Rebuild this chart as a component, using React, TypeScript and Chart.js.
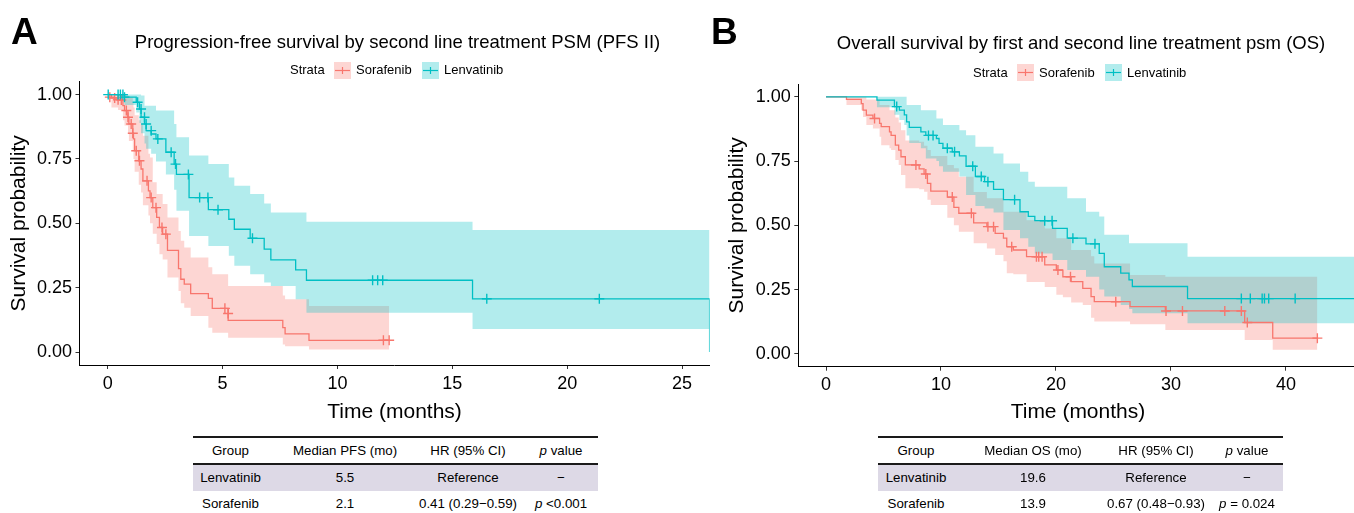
import React, { useEffect, useRef } from "react";
import { Chart, registerables } from "chart.js";

Chart.register(...registerables);

const RED = "#F8766D";
const TEAL = "#00BFC4";
const RED_FILL = "rgba(248,118,109,0.3)";
const TEAL_FILL = "rgba(0,191,196,0.3)";
const FONT = "'Liberation Sans', Arial, Helvetica, sans-serif";

// ---------- Panel A : PFS II ----------
const pfsSoraTime = [0, 0.16, 0.45, 0.66, 0.73, 0.88, 0.92, 1.09, 1.12, 1.17, 1.35, 1.45, 1.53, 1.77, 1.84, 1.96, 2.13, 2.25, 2.39, 2.6, 3.08, 3.18, 3.33, 3.61, 4.38, 4.55, 5.24, 7.62, 7.72, 8.76];
const pfsSoraSurv = [1, 0.987, 0.979, 0.957, 0.938, 0.912, 0.886, 0.85, 0.828, 0.782, 0.743, 0.711, 0.665, 0.626, 0.6, 0.561, 0.523, 0.484, 0.458, 0.395, 0.324, 0.283, 0.264, 0.227, 0.209, 0.17, 0.123, 0.095, 0.071, 0.046];
const pfsSoraLower = [1, 0.95, 0.94, 0.9, 0.88, 0.85, 0.82, 0.78, 0.75, 0.7, 0.65, 0.62, 0.57, 0.53, 0.5, 0.46, 0.42, 0.38, 0.36, 0.29, 0.237, 0.19, 0.172, 0.14, 0.095, 0.075, 0.056, 0.03, 0.023, 0.01];
const pfsSoraUpper = [1, 1, 1, 1, 1, 0.995, 0.99, 0.97, 0.95, 0.92, 0.9, 0.886, 0.84, 0.77, 0.756, 0.66, 0.614, 0.614, 0.575, 0.523, 0.47, 0.432, 0.406, 0.367, 0.33, 0.302, 0.257, 0.22, 0.205, 0.179];
const pfsSoraEnd = 12.25;
const pfsSoraCensorTime = [0.09, 0.3, 0.45, 0.59, 0.81, 0.88, 1.02, 1.09, 1.24, 1.38, 1.71, 1.89, 2.1, 2.36, 2.53, 5.1, 5.24, 12.0, 12.25];
const pfsSoraCensorSurv = [0.99, 0.987, 0.98, 0.979, 0.938, 0.912, 0.886, 0.85, 0.782, 0.743, 0.665, 0.6, 0.561, 0.484, 0.458, 0.17, 0.15, 0.046, 0.046];

const pfsLenvTime = [0, 0.73, 1.24, 1.38, 1.45, 1.6, 1.67, 1.89, 2.1, 2.53, 2.89, 2.99, 3.54, 4.38, 5.27, 5.51, 6.2, 6.81, 7.1, 8.18, 8.65, 15.88, 26.2];
const pfsLenvSurv = [1, 0.99, 0.97, 0.944, 0.912, 0.886, 0.86, 0.847, 0.828, 0.776, 0.73, 0.69, 0.6, 0.553, 0.516, 0.477, 0.442, 0.4, 0.358, 0.319, 0.279, 0.207, 0];
const pfsLenvLower = [1, 0.96, 0.93, 0.89, 0.85, 0.81, 0.79, 0.77, 0.74, 0.69, 0.63, 0.549, 0.451, 0.412, 0.374, 0.335, 0.302, 0.27, 0.257, 0.205, 0.153, 0.09, 0.09];
const pfsLenvUpper = [1, 1, 1, 1, 0.996, 0.957, 0.957, 0.957, 0.938, 0.938, 0.886, 0.834, 0.763, 0.73, 0.678, 0.646, 0.614, 0.577, 0.542, 0.542, 0.506, 0.474, 0.474];
const pfsLenvEnd = 26.2;
const pfsLenvCensorTime = [0.02, 0.45, 0.55, 0.66, 0.73, 1.3, 1.45, 1.6, 1.67, 1.89, 2.18, 2.76, 2.95, 3.51, 4.0, 4.36, 4.8, 6.3, 11.53, 11.75, 11.97, 16.5, 21.4];
const pfsLenvCensorSurv = [1, 1, 1, 1, 0.99, 0.97, 0.944, 0.912, 0.886, 0.86, 0.828, 0.776, 0.73, 0.69, 0.6, 0.6, 0.553, 0.442, 0.279, 0.279, 0.279, 0.207, 0.207];

// ---------- Panel B : OS ----------
const osSoraTime = [0, 1.78, 3.07, 3.22, 3.51, 4.08, 4.66, 4.8, 5.52, 5.66, 6.03, 6.32, 6.52, 6.9, 8.1, 8.53, 8.82, 9.11, 10.55, 11.12, 11.55, 12.84, 13.99, 14.71, 15.43, 15.72, 16.29, 17.44, 19.02, 20.03, 20.6, 21.32, 22.33, 23.05, 23.33, 26.44, 29.51, 36.41, 38.85];
const osSoraSurv = [1, 0.99, 0.974, 0.948, 0.929, 0.916, 0.897, 0.884, 0.864, 0.85, 0.812, 0.793, 0.767, 0.735, 0.72, 0.7, 0.663, 0.633, 0.61, 0.57, 0.547, 0.51, 0.495, 0.469, 0.45, 0.417, 0.404, 0.378, 0.346, 0.326, 0.3, 0.281, 0.255, 0.223, 0.203, 0.184, 0.167, 0.122, 0.061];
const osSoraLower = [1, 0.968, 0.948, 0.922, 0.89, 0.877, 0.845, 0.812, 0.8, 0.793, 0.754, 0.735, 0.696, 0.644, 0.64, 0.631, 0.6, 0.579, 0.53, 0.5, 0.475, 0.43, 0.41, 0.385, 0.36, 0.314, 0.31, 0.28, 0.26, 0.23, 0.22, 0.2, 0.19, 0.14, 0.126, 0.115, 0.093, 0.054, 0.016];
const osSoraUpper = [1, 1, 1, 1, 0.99, 0.99, 0.968, 0.968, 0.948, 0.948, 0.92, 0.9, 0.87, 0.83, 0.825, 0.81, 0.793, 0.77, 0.735, 0.722, 0.689, 0.63, 0.605, 0.605, 0.553, 0.553, 0.553, 0.52, 0.488, 0.45, 0.45, 0.404, 0.404, 0.38, 0.352, 0.307, 0.3, 0.3, 0.3];
const osSoraEnd = 42.73;
const osSoraCensorTime = [4.22, 7.82, 8.68, 10.98, 12.64, 14.08, 14.57, 16.15, 18.3, 18.5, 18.79, 20.17, 21.26, 25.2, 29.57, 31.0, 34.68, 36.12, 36.64, 42.73];
const osSoraCensorSurv = [0.916, 0.735, 0.7, 0.61, 0.547, 0.495, 0.495, 0.417, 0.378, 0.378, 0.378, 0.326, 0.3, 0.203, 0.167, 0.167, 0.167, 0.167, 0.122, 0.061];

const osLenvTime = [0, 4.43, 5.95, 6.38, 6.81, 7.01, 7.24, 8.25, 8.68, 9.6, 9.83, 10.17, 10.98, 11.6, 12.18, 12.99, 13.79, 14.57, 15.43, 16.87, 17.59, 18.16, 19.7, 20.98, 22.61, 23.76, 24.2, 25.63, 26.35, 26.64, 31.44];
const osLenvSurv = [1, 0.987, 0.962, 0.948, 0.93, 0.903, 0.881, 0.864, 0.85, 0.838, 0.819, 0.8, 0.786, 0.77, 0.73, 0.69, 0.67, 0.64, 0.6, 0.553, 0.535, 0.518, 0.488, 0.45, 0.428, 0.391, 0.339, 0.314, 0.288, 0.262, 0.215];
const osLenvLower = [1, 0.96, 0.93, 0.91, 0.89, 0.85, 0.82, 0.8, 0.76, 0.75, 0.73, 0.709, 0.709, 0.69, 0.618, 0.575, 0.566, 0.55, 0.482, 0.45, 0.417, 0.39, 0.365, 0.326, 0.3, 0.25, 0.223, 0.19, 0.175, 0.158, 0.119];
const osLenvUpper = [1, 1, 1, 1, 1, 0.968, 0.968, 0.948, 0.948, 0.916, 0.916, 0.89, 0.89, 0.87, 0.851, 0.806, 0.806, 0.78, 0.741, 0.709, 0.67, 0.65, 0.65, 0.605, 0.553, 0.534, 0.463, 0.463, 0.43, 0.43, 0.378];
const osLenvEnd = 46.5;
const osLenvCensorTime = [6.15, 8.91, 9.31, 10.55, 11.18, 12.76, 13.5, 14.08, 16.4, 19.02, 19.66, 21.47, 23.39, 36.12, 36.9, 37.93, 38.13, 38.5, 40.8];
const osLenvCensorSurv = [0.962, 0.85, 0.85, 0.8, 0.786, 0.73, 0.69, 0.67, 0.6, 0.518, 0.518, 0.45, 0.428, 0.215, 0.215, 0.215, 0.215, 0.215, 0.215];

// ---------- axes ----------
const pfsXTicks = [0, 5, 10, 15, 20, 25];
const osXTicks = [0, 10, 20, 30, 40];
const yTicks = [0, 0.25, 0.5, 0.75, 1];

// ---------- tables ----------
const pfsTableHeader = ["Group", "Median PFS (mo)", "HR (95% CI)", "p value"];
const pfsTableRow1 = ["Lenvatinib", "5.5", "Reference", "\u2212"];
const pfsTableRow2 = ["Sorafenib", "2.1", "0.41 (0.29\u22120.59)", "p <0.001"];
const osTableHeader = ["Group", "Median OS (mo)", "HR (95% CI)", "p value"];
const osTableRow1 = ["Lenvatinib", "19.6", "Reference", "\u2212"];
const osTableRow2 = ["Sorafenib", "13.9", "0.67 (0.48\u22120.93)", "p = 0.024"];

type Curve = {
  time: number[];
  surv: number[];
  lower: number[];
  upper: number[];
  end: number;
  cTime: number[];
  cSurv: number[];
};

const pfsSora: Curve = { time: pfsSoraTime, surv: pfsSoraSurv, lower: pfsSoraLower, upper: pfsSoraUpper, end: pfsSoraEnd, cTime: pfsSoraCensorTime, cSurv: pfsSoraCensorSurv };
const pfsLenv: Curve = { time: pfsLenvTime, surv: pfsLenvSurv, lower: pfsLenvLower, upper: pfsLenvUpper, end: pfsLenvEnd, cTime: pfsLenvCensorTime, cSurv: pfsLenvCensorSurv };
const osSora: Curve = { time: osSoraTime, surv: osSoraSurv, lower: osSoraLower, upper: osSoraUpper, end: osSoraEnd, cTime: osSoraCensorTime, cSurv: osSoraCensorSurv };
const osLenv: Curve = { time: osLenvTime, surv: osLenvSurv, lower: osLenvLower, upper: osLenvUpper, end: osLenvEnd, cTime: osLenvCensorTime, cSurv: osLenvCensorSurv };

function stepPts(time: number[], vals: number[], end: number) {
  const pts = time.map((t, i) => ({ x: t, y: vals[i] }));
  if (end > time[time.length - 1]) pts.push({ x: end, y: vals[vals.length - 1] });
  return pts;
}

type PanelCfg = {
  sora: Curve;
  lenv: Curve;
  xMin: number;
  xMax: number;
  xTicks: number[];
  padTop: number;
  padRight: number;
  xAxisHeight: number;
  yAxisWidth: number;
  xTitlePad: number;
  yTitlePad: number;
};

function buildConfig(p: PanelCfg): any {
  const lineDs = (c: Curve, color: string, order: number) => ({
    data: stepPts(c.time, c.surv, c.end),
    stepped: "before",
    borderColor: color,
    borderWidth: 1.3,
    pointRadius: 0,
    pointHoverRadius: 0,
    fill: false,
    order,
  });
  const bandDs = (c: Curve, vals: number[], fillColor: string, fill: any, order: number) => ({
    data: stepPts(c.time, vals, c.end),
    stepped: "before",
    borderColor: "rgba(0,0,0,0)",
    borderWidth: 0,
    backgroundColor: fillColor,
    pointRadius: 0,
    pointHoverRadius: 0,
    fill,
    order,
  });
  const censorDs = (c: Curve, color: string, order: number) => ({
    data: c.cTime.map((t, i) => ({ x: t, y: c.cSurv[i] })),
    showLine: false,
    pointStyle: "cross",
    pointRadius: 5,
    pointHoverRadius: 5,
    pointBorderWidth: 1.4,
    pointBorderColor: color,
    pointBackgroundColor: color,
    borderColor: color,
    order,
  });
  return {
    type: "line",
    data: {
      datasets: [
        censorDs(p.lenv, TEAL, -2),
        censorDs(p.sora, RED, -1),
        lineDs(p.lenv, TEAL, 0),
        lineDs(p.sora, RED, 1),
        bandDs(p.lenv, p.lenv.upper, TEAL_FILL, "+1", 10),
        bandDs(p.lenv, p.lenv.lower, TEAL_FILL, false, 11),
        bandDs(p.sora, p.sora.upper, RED_FILL, "+1", 12),
        bandDs(p.sora, p.sora.lower, RED_FILL, false, 13),
      ],
    },
    options: {
      responsive: false,
      animation: false,
      devicePixelRatio: 1,
      events: [],
      layout: { padding: { top: p.padTop, left: 0, right: p.padRight, bottom: 0 } },
      plugins: { legend: { display: false }, tooltip: { enabled: false }, title: { display: false } },
      scales: {
        x: {
          type: "linear",
          min: p.xMin,
          max: p.xMax,
          afterBuildTicks: (s: any) => {
            s.ticks = p.xTicks.map((v) => ({ value: v }));
          },
          afterFit: (s: any) => {
            s.height = p.xAxisHeight;
          },
          grid: { display: true, drawOnChartArea: false, drawTicks: true, tickLength: 4, color: "#333333", lineWidth: 1 },
          border: { display: true, color: "#000000", width: 1 },
          ticks: {
            color: "#000000",
            font: { family: FONT, size: 18 },
            padding: 4,
            maxRotation: 0,
            autoSkip: false,
            callback: (v: any) => String(v),
          },
          title: {
            display: true,
            text: "Time (months)",
            color: "#000000",
            font: { family: FONT, size: 21 },
            padding: { top: 0, bottom: p.xTitlePad },
          },
        },
        y: {
          type: "linear",
          min: -0.05,
          max: 1.05,
          afterBuildTicks: (s: any) => {
            s.ticks = yTicks.map((v) => ({ value: v }));
          },
          afterFit: (s: any) => {
            s.width = p.yAxisWidth;
          },
          grid: { display: true, drawOnChartArea: false, drawTicks: true, tickLength: 4, color: "#333333", lineWidth: 1 },
          border: { display: true, color: "#000000", width: 1 },
          ticks: {
            color: "#000000",
            font: { family: FONT, size: 18 },
            padding: 3.5,
            autoSkip: false,
            callback: (v: any) => Number(v).toFixed(2),
          },
          title: {
            display: true,
            text: "Survival probability",
            color: "#000000",
            font: { family: FONT, size: 21 },
            padding: { top: p.yTitlePad, bottom: 0 },
          },
        },
      },
    },
  };
}

function KMChart(props: { cfg: PanelCfg; left: number; width: number; height: number }) {
  const ref = useRef<HTMLCanvasElement>(null);
  useEffect(() => {
    const chart = new Chart(ref.current as HTMLCanvasElement, buildConfig(props.cfg));
    return () => chart.destroy();
  }, []);
  return (
    <canvas
      ref={ref}
      width={props.width}
      height={props.height}
      style={{ position: "absolute", left: props.left, top: 0, width: props.width, height: props.height, display: "block" }}
    />
  );
}

function Txt(props: { x: number; cy: number; size: number; text: any; align?: string; bold?: boolean; italic?: boolean }) {
  const L = Math.round(props.size * 1.4);
  const align = props.align || "center";
  const w = 700;
  const left = align === "center" ? props.x - w / 2 : props.x;
  return (
    <div
      style={{
        position: "absolute",
        left,
        top: props.cy - L / 2,
        width: w,
        height: L,
        lineHeight: L + "px",
        fontSize: props.size,
        fontFamily: FONT,
        fontWeight: props.bold ? "bold" : "normal",
        fontStyle: props.italic ? "italic" : "normal",
        textAlign: align as any,
        color: "#000",
        whiteSpace: "nowrap",
      }}
    >
      {props.text}
    </div>
  );
}

function LegendKey(props: { x: number; cy: number; color: string; fill: string }) {
  return (
    <svg width={17} height={17} style={{ position: "absolute", left: props.x, top: props.cy - 8.5 }}>
      <rect x={0} y={0} width={17} height={17} fill={props.fill} />
      <line x1={1} y1={8.5} x2={16} y2={8.5} stroke={props.color} strokeWidth={1.2} />
      <line x1={8.5} y1={5} x2={8.5} y2={12} stroke={props.color} strokeWidth={1.2} />
    </svg>
  );
}

function Legend(props: { x0: number; cy: number }) {
  const x0 = props.x0;
  return (
    <>
      <Txt x={x0} cy={props.cy} size={13} text="Strata" align="left" />
      <LegendKey x={x0 + 44} cy={props.cy} color={RED} fill={RED_FILL} />
      <Txt x={x0 + 66} cy={props.cy} size={13} text="Sorafenib" align="left" />
      <LegendKey x={x0 + 132} cy={props.cy} color={TEAL} fill={TEAL_FILL} />
      <Txt x={x0 + 154} cy={props.cy} size={13} text="Lenvatinib" align="left" />
    </>
  );
}

function pCell(s: string) {
  if (s.startsWith("p ")) {
    return (
      <span>
        <i>p</i>
        {s.slice(1)}
      </span>
    );
  }
  return s;
}

function Table(props: { left: number; width: number; cols: number[]; header: string[]; row1: string[]; row2: string[] }) {
  const size = 13.3;
  return (
    <>
      <div style={{ position: "absolute", left: props.left, top: 436, width: props.width, height: 2, background: "#1a1a1a" }} />
      <div style={{ position: "absolute", left: props.left, top: 463, width: props.width, height: 2, background: "#1a1a1a" }} />
      <div style={{ position: "absolute", left: props.left, top: 465, width: props.width, height: 26, background: "#DDD9E6" }} />
      {props.header.map((h, i) => (
        <Txt key={"h" + i} x={props.cols[i]} cy={450} size={size} text={i === 3 ? <span><i>p</i> value</span> : h} />
      ))}
      {props.row1.map((h, i) => (
        <Txt key={"a" + i} x={props.cols[i]} cy={477.5} size={size} text={h} />
      ))}
      {props.row2.map((h, i) => (
        <Txt key={"b" + i} x={props.cols[i]} cy={503.5} size={size} text={i === 3 ? pCell(h) : h} />
      ))}
    </>
  );
}

const panelA: PanelCfg = {
  sora: pfsSora,
  lenv: pfsLenv,
  xMin: -1.23,
  xMax: 26.2,
  xTicks: pfsXTicks,
  padTop: 81.7,
  padRight: 2,
  xAxisHeight: 65,
  yAxisWidth: 79.5,
  xTitlePad: 5.4,
  yTitlePad: 6.4,
};

const panelB: PanelCfg = {
  sora: osSora,
  lenv: osLenv,
  xMin: -2.41,
  xMax: 46.23,
  xTicks: osXTicks,
  padTop: 84,
  padRight: 0,
  xAxisHeight: 63.3,
  yAxisWidth: 98.3,
  xTitlePad: 5.4,
  yTitlePad: 24.4,
};

export default function App() {
  return (
    <div style={{ position: "fixed", left: 0, top: 0, width: 1354, height: 513, overflow: "hidden", background: "#fff" }}>
      <KMChart cfg={panelA} left={0} width={716} height={430} />
      <KMChart cfg={panelB} left={700} width={664} height={430} />

      <Txt x={11} cy={31.7} size={37} text="A" align="left" bold />
      <Txt x={711} cy={31.7} size={37} text="B" align="left" bold />

      <Txt x={397.5} cy={41.5} size={18.5} text="Progression-free survival by second line treatment PSM (PFS II)" />
      <Txt x={1081} cy={42.5} size={18.5} text="Overall survival by first and second line treatment psm (OS)" />

      <Legend x0={290} cy={70} />
      <Legend x0={973} cy={72.5} />

      <Table left={193} width={405} cols={[230.5, 345, 468, 561]} header={pfsTableHeader} row1={pfsTableRow1} row2={pfsTableRow2} />
      <Table left={878} width={405} cols={[916, 1033, 1156, 1247]} header={osTableHeader} row1={osTableRow1} row2={osTableRow2} />
    </div>
  );
}
